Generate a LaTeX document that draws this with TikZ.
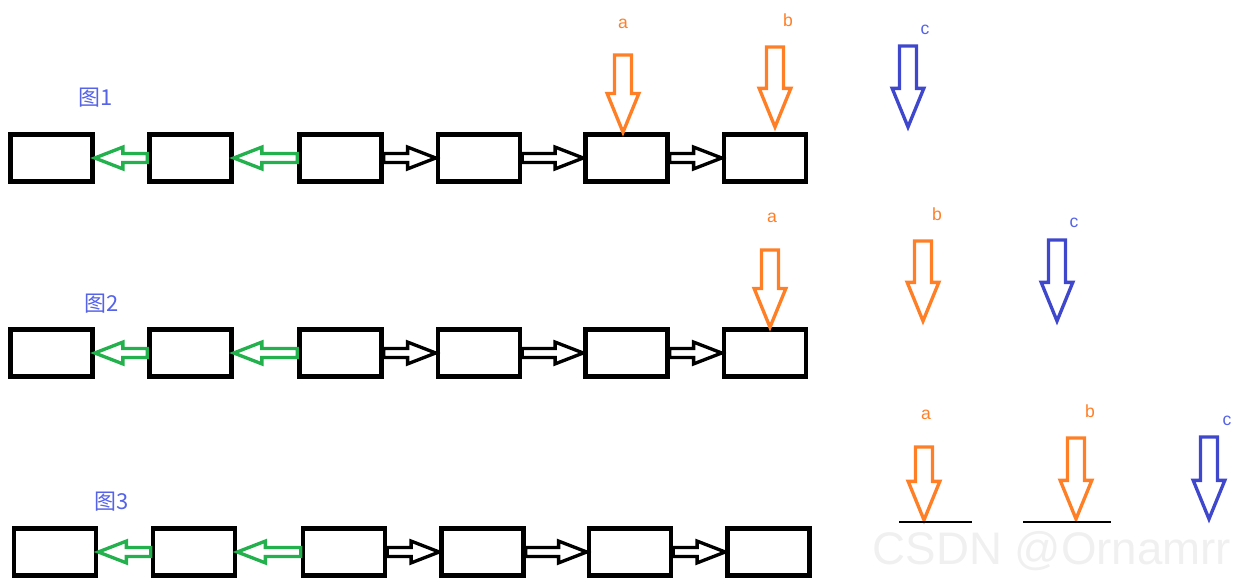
\documentclass[tikz,border=0pt]{standalone}
\usepackage{fontspec}
\setmainfont{Liberation Sans}
\newfontfamily\cjk{Noto Sans CJK SC}
\usetikzlibrary{calc}

\definecolor{paintorange}{HTML}{FF7F27}
\definecolor{paintgreen}{HTML}{22B14C}
\definecolor{paintblue}{HTML}{3F48CC}
\definecolor{labelblue}{HTML}{5563E8}

\tikzset{
  box/.style={draw, line width=2.6pt, minimum width=1.64cm, minimum height=0.94cm, inner sep=0pt},
  hollow/.style={line width=1.9pt, line join=miter},
  lbl/.style={font=\fontsize{10}{12}\selectfont},
  title/.style={text=labelblue, font=\cjk\fontsize{12.5}{14}\selectfont},
}

% horizontal hollow arrow: colour, tail, tip
\newcommand{\harrow}[3]{%
  \draw[hollow, #1] let \p1=(#2), \p2=(#3), \p3=($(#3)!16pt!(#2)$) in
    (\x1,\y2+2.6pt) -- (\x3,\y2+2.6pt) -- (\x3,\y2+6.2pt) -- (\x2,\y2)
    -- (\x3,\y2-6.2pt) -- (\x3,\y2-2.6pt) -- (\x1,\y2-2.6pt) -- cycle;}

% vertical hollow arrow: colour, top, tip
\newcommand{\varrow}[3]{%
  \draw[hollow, #1] let \p1=(#2), \p2=(#3) in
    (\x1-4.8pt,\y1) -- (\x1+4.8pt,\y1) -- (\x1+4.8pt,\y2+22pt) -- (\x1+9pt,\y2+22pt) -- (\x1,\y2)
    -- (\x1-9pt,\y2+22pt) -- (\x1-4.8pt,\y2+22pt) -- cycle;}

\begin{document}
\begin{tikzpicture}[x=0.02cm, y=-0.02cm]
  \useasboundingbox (0,0) rectangle (1252,587);

  % the three lists
  \foreach \r/\y/\dx in {1/158/0, 2/353/0, 3/552/3.5} {
    \foreach \i/\x in {1/51.5, 2/190.5, 3/340.5, 4/479, 5/626.5, 6/765}
      \node[box] (b\r\i) at (\x+\dx,\y) {};
  }

  % links between the nodes
  \foreach \r in {1,2,3} {
    \harrow{paintgreen}{b\r2.west}{b\r1.east}
    \harrow{paintgreen}{b\r3.west}{b\r2.east}
    \harrow{black}{b\r3.east}{b\r4.west}
    \harrow{black}{b\r4.east}{b\r5.west}
    \harrow{black}{b\r5.east}{b\r6.west}
  }

  % titles
  \node[title] (t1) at (96,98) {图1};
  \node[title] (t2) at (102,304) {图2};
  \node[title] (t3) at (112,502) {图3};

  % pointers, figure 1
  \coordinate (a1) at (623,55);
  \coordinate (p1) at (775,47);  \coordinate (p1e) at (775,127);
  \coordinate (c1) at (908,46);  \coordinate (c1e) at (908,127);
  \varrow{paintorange}{a1}{b15.north}
  \varrow{paintorange}{p1}{p1e}
  \varrow{paintblue}{c1}{c1e}
  \node[lbl, text=paintorange] (la1) at (623,24) {a};
  \node[lbl, text=paintorange] (lb1) at (788,20) {b};
  \node[lbl, text=labelblue] (lc1) at (925,30) {c};

  % pointers, figure 2
  \coordinate (a2) at (770,250);
  \coordinate (p2) at (923,241);  \coordinate (p2e) at (923,321);
  \coordinate (c2) at (1057,240); \coordinate (c2e) at (1057,321);
  \varrow{paintorange}{a2}{b26.north}
  \varrow{paintorange}{p2}{p2e}
  \varrow{paintblue}{c2}{c2e}
  \node[lbl, text=paintorange] (la2) at (772,218) {a};
  \node[lbl, text=paintorange] (lb2) at (937,214) {b};
  \node[lbl, text=labelblue] (lc2) at (1074,223) {c};

  % pointers, figure 3
  \coordinate (a3) at (924,447);  \coordinate (a3e) at (924,520);
  \coordinate (p3) at (1076,438); \coordinate (p3e) at (1076,519);
  \coordinate (c3) at (1209,437); \coordinate (c3e) at (1209,519);
  \varrow{paintorange}{a3}{a3e}
  \varrow{paintorange}{p3}{p3e}
  \varrow{paintblue}{c3}{c3e}
  \draw[line width=0.6pt] (899,522) -- (972,522);
  \draw[line width=1.2pt] (899,522) -- (951,522);
  \draw[line width=0.6pt] (1023,522) -- (1111,522);
  \node[lbl, text=paintorange] (la3) at (926,415) {a};
  \node[lbl, text=paintorange] (lb3) at (1090,411) {b};
  \node[lbl, text=labelblue] (lc3) at (1227,421) {c};

  % watermark
  \node[text=black!6, font=\fontsize{26}{28}\selectfont] (mark) at (1052,551) {CSDN @Ornamrr};
\end{tikzpicture}
\end{document}
